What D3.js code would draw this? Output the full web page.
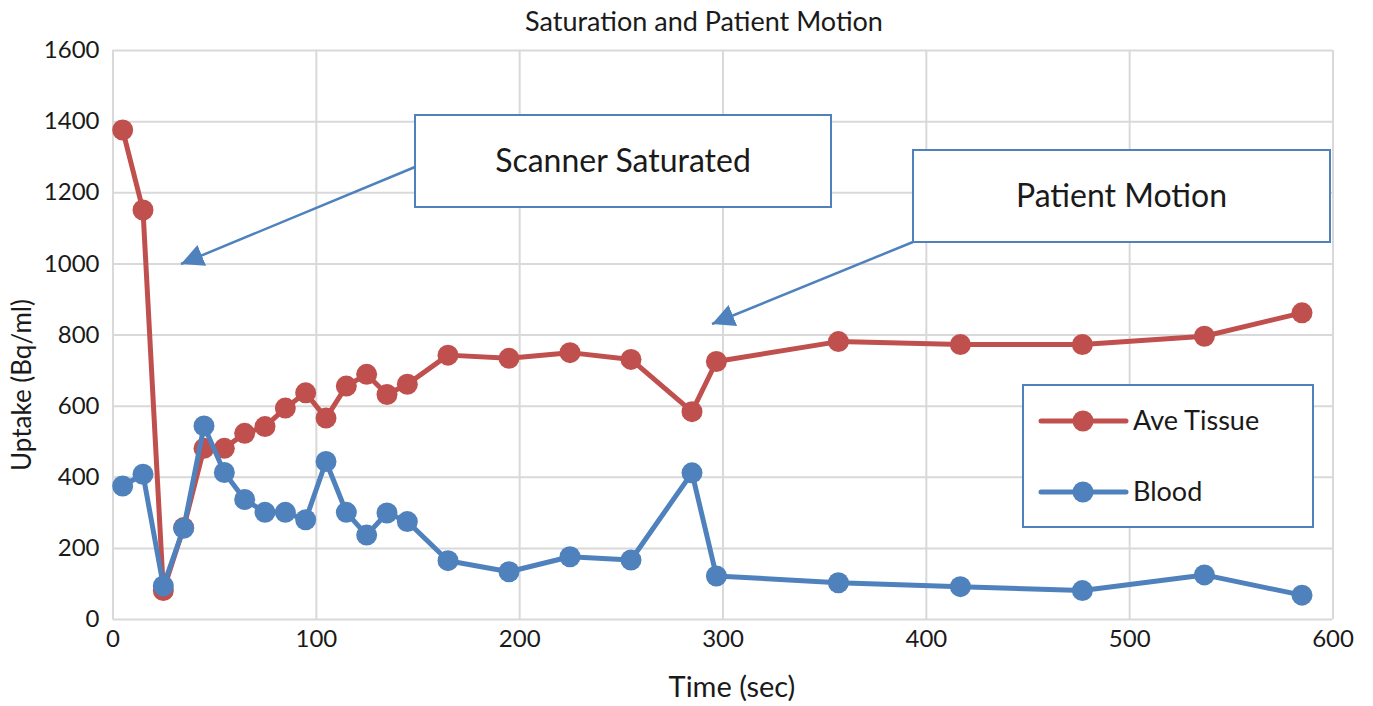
<!DOCTYPE html>
<html><head><meta charset="utf-8">
<script src="https://cdn.jsdelivr.net/npm/d3@7"></script>
<style>body{margin:0;background:#fff} text{font-family:Lato,'Open Sans',sans-serif;fill:#1a1a1a}</style>
</head><body><svg id="c" width="1373" height="706"></svg>
<script>
const times = [5,15,25,35,45,55,65,75,85,95,105,115,125,135,145,165,195,225,255,285,297,357,417,477,537,585];
const aveTissue = [1375,1150,80,257,480,480,522,541,593,636,565,655,688,631,660,742,733,749,730,583,724,780,772,772,795,861];
const blood = [374,407,93,255,543,412,336,300,300,279,443,300,236,298,274,164,133,175,166,411,121,102,91,80,124,67];
const xTicks = [0,100,200,300,400,500,600];
const yTicks = [0,200,400,600,800,1000,1200,1400,1600];
const seriesNames = ["Ave Tissue","Blood"];
const seriesColors = ["#C0504D","#4F81BD"];
const titleText = "Saturation and Patient Motion";
const xTitle = "Time (sec)";
const yTitle = "Uptake (Bq/ml)";

const svg = d3.select("#c");
const x = d3.scaleLinear().domain([0,600]).range([112.5,1332.5]);
const y = d3.scaleLinear().domain([0,1600]).range([619,50]);
const grid = "#D9D9D9";

// gridlines
const gx = svg.append("g").attr("transform","translate(0,619)")
  .call(d3.axisBottom(x).tickValues(xTicks).tickSize(-(619-50)).tickFormat(""));
gx.selectAll("line").attr("stroke",grid).attr("stroke-width",2);
gx.select(".domain").remove();
const gy = svg.append("g").attr("transform","translate(112.5,0)")
  .call(d3.axisLeft(y).tickValues(yTicks).tickSize(-(1332.5-112.5)).tickFormat(""));
gy.selectAll("line").attr("stroke",grid).attr("stroke-width",2);
gy.select(".domain").remove();

// tick labels
const xl = svg.append("g").attr("transform","translate(0,619)")
  .call(d3.axisBottom(x).tickValues(xTicks).tickSize(0).tickPadding(11).tickFormat(d3.format("d")));
xl.select(".domain").remove();
xl.selectAll("text").style("font-size","24px").attr("fill","#1a1a1a");
const yl = svg.append("g").attr("transform","translate(112.5,0)")
  .call(d3.axisLeft(y).tickValues(yTicks).tickSize(0).tickPadding(13).tickFormat(d3.format("d")));
yl.select(".domain").remove();
yl.selectAll("text").style("font-size","24px").attr("fill","#1a1a1a");

// series
const sets = [aveTissue, blood];
sets.forEach((vals,i)=>{
  const pts = times.map((t,j)=>[t,vals[j]]);
  svg.append("path").datum(pts)
    .attr("fill","none").attr("stroke",seriesColors[i]).attr("stroke-width",5)
    .attr("stroke-linejoin","round")
    .attr("d", d3.line().x(d=>x(d[0])).y(d=>y(d[1])));
  svg.append("g").selectAll("circle").data(pts).join("circle")
    .attr("cx",d=>x(d[0])).attr("cy",d=>y(d[1])).attr("r",10.5)
    .attr("fill",seriesColors[i]);
});

// titles
svg.append("text").attr("x",704).attr("y",31).attr("text-anchor","middle")
  .style("font-size","27px").text(titleText);
svg.append("text").attr("x",732).attr("y",697).attr("text-anchor","middle")
  .style("font-size","29px").text(xTitle);
svg.append("text").attr("transform","translate(31,385) rotate(-90)").attr("text-anchor","middle")
  .style("font-size","26px").text(yTitle);

// legend
const lg = svg.append("g");
lg.append("rect").attr("x",1023).attr("y",385).attr("width",290).attr("height",142)
  .attr("fill","#fff").attr("stroke","#4F81BD").attr("stroke-width",2);
seriesNames.forEach((n,i)=>{
  const yy = 421 + i*71;
  lg.append("line").attr("x1",1041).attr("x2",1126).attr("y1",yy).attr("y2",yy)
    .attr("stroke",seriesColors[i]).attr("stroke-width",5).attr("stroke-linecap","round");
  lg.append("circle").attr("cx",1083).attr("cy",yy).attr("r",10.5).attr("fill",seriesColors[i]);
  lg.append("text").attr("x",1133).attr("y",yy+9).style("font-size","27px").text(n);
});

// annotations
const defs = svg.append("defs");
defs.append("marker").attr("id","ah").attr("viewBox","0 0 10 10").attr("refX",10).attr("refY",5)
  .attr("markerWidth",9).attr("markerHeight",9).attr("markerUnits","strokeWidth").attr("orient","auto")
  .append("path").attr("d","M0,0 L10,5 L0,10 Z").attr("fill","#4F81BD");
function note(bx,by,bw,bh,txt,sx,sy,tx,ty){
  svg.append("line").attr("x1",sx).attr("y1",sy).attr("x2",tx).attr("y2",ty)
    .attr("stroke","#4F81BD").attr("stroke-width",2.5).attr("marker-end","url(#ah)");
  svg.append("rect").attr("x",bx).attr("y",by).attr("width",bw).attr("height",bh)
    .attr("fill","#fff").attr("stroke","#4F81BD").attr("stroke-width",2);
  svg.append("text").attr("x",bx+bw/2).attr("y",by+bh/2+11).attr("text-anchor","middle")
    .style("font-size","32px").text(txt);
}
note(415,115,416,92,"Scanner Saturated",415,167,181,264);
note(913,150,417,92,"Patient Motion",913,242,712,324);
</script></body></html>
